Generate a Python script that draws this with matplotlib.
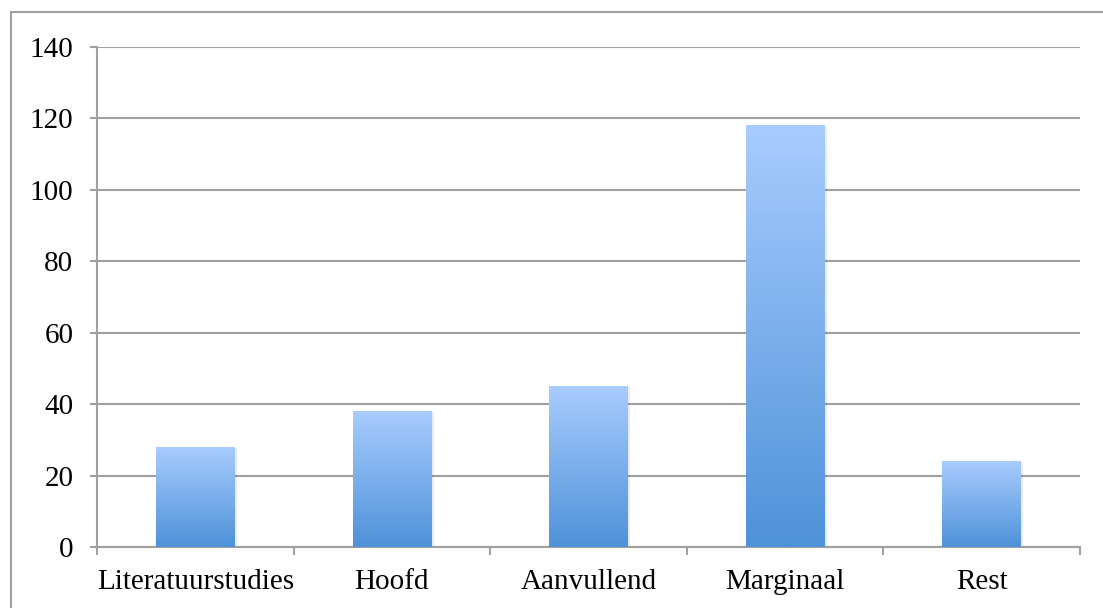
import numpy as np
import matplotlib.pyplot as plt
from matplotlib.colors import LinearSegmentedColormap
from matplotlib.patches import Rectangle

# ── Data ──────────────────────────────────────────────────────────────────────
categories = ["Literatuurstudies", "Hoofd", "Aanvullend", "Marginaal", "Rest"]
values = [28, 38, 45, 118, 24]
yticks = [0, 20, 40, 60, 80, 100, 120, 140]

GRID = "#a0a0a0"
cmap = LinearSegmentedColormap.from_list("bar", ["#4e92d8", "#a8ccff"])

plt.rcParams["font.family"] = ["Liberation Serif", "DejaVu Serif"]

fig = plt.figure(figsize=(11.03, 6.08), dpi=100)
ax = fig.add_axes([97 / 1103, 61 / 608, 983 / 1103, 500 / 608])

# outer chart border (runs off the bottom/right of the image)
fig.patches.append(Rectangle((11 / 1103, -0.1), 1.2, 0.1 + (608 - 12) / 608,
                             transform=fig.transFigure, fill=False,
                             edgecolor=GRID, lw=1.5))

x = np.arange(len(categories))
width = 0.4
bars = ax.bar(x, values, width=width, color="none", zorder=3)

grad = np.linspace(0, 1, 256).reshape(-1, 1)
for b in bars:
    x0, w, h = b.get_x(), b.get_width(), b.get_height()
    # soft shadow
    ax.add_patch(Rectangle((x0 + 0.012, -0.3), w, h, facecolor="#000000",
                           alpha=0.08, lw=0, zorder=2.5))
    ax.imshow(grad, cmap=cmap, aspect="auto", origin="lower",
              extent=[x0, x0 + w, 0, h], zorder=3)

ax.set_xlim(-0.5, len(categories) - 0.5)
ax.set_ylim(0, 140)
ax.set_yticks(yticks)
ax.yaxis.grid(True, color=GRID, lw=1.5)
ax.set_axisbelow(True)

ax.set_xticks(np.arange(-0.5, len(categories)), minor=False)
ax.set_xticklabels([])
ax.set_xticks(x, minor=True)
ax.set_xticklabels(categories, minor=True)
ax.tick_params(axis="x", which="major", length=6, width=1.5, color=GRID, direction="out")
ax.tick_params(axis="x", which="minor", length=0, pad=16, labelsize=21)
ax.tick_params(axis="y", length=5, width=1.5, color=GRID, labelsize=21, pad=12)

for s in ["top", "right"]:
    ax.spines[s].set_visible(False)
for s in ["left", "bottom"]:
    ax.spines[s].set_color(GRID)
    ax.spines[s].set_linewidth(1.5)

fig.savefig("out.png", dpi=100)
